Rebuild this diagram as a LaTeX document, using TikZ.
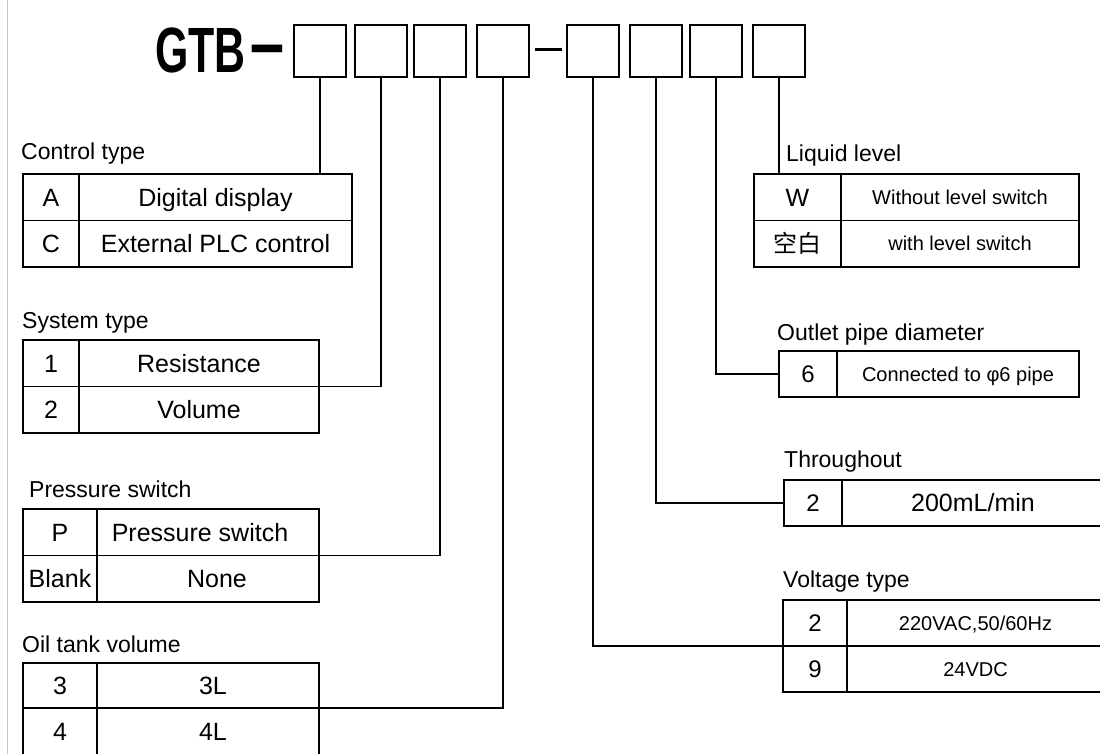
\documentclass[tikz,border=0pt]{standalone}
\usepackage{graphicx}
\usepackage{fontspec}
\setmainfont{Liberation Sans}
\newfontfamily\cjk{Noto Sans CJK SC}
\newfontfamily\gtbfont[FakeStretch=0.67]{Liberation Sans}
\begin{document}
\begin{tikzpicture}[x=1pt,y=-1pt]
\tikzset{
  ln/.style={line width=1.8pt, black},
  bx/.style={draw, line width=1.8pt, minimum width=52pt, minimum height=52pt, inner sep=0pt, outer sep=0pt},
  cell/.style={draw, line width=1.8pt, inner sep=0pt, outer sep=0pt, anchor=north west, text depth=0pt},
  big/.style={font=\fontsize{25}{30}\selectfont, text height=17.9pt},
  med/.style={font=\fontsize{24}{29}\selectfont, text height=17.2pt},
  sm/.style={font=\fontsize{20}{24}\selectfont, text height=14.3pt},
  lbl/.style={font=\fontsize{23}{28}\selectfont, anchor=base west, inner sep=0pt},
}
\clip (0,0) rectangle (1100,754);
\fill[white] (0,0) rectangle (1100,754);
\draw[black!22, line width=1.5pt] (7.5,0) -- (7.5,754);

% title code
\node[anchor=base west, inner sep=0pt, font=\gtbfont\bfseries\fontsize{64}{64}\selectfont] (gtb) at (155,73) {GTB\kern2pt\raisebox{7pt}{\scalebox{2.8}[1]{-}}};
\node[bx] (b1) at (320,51) {};
\node[bx] (b2) at (381,51) {};
\node[bx] (b3) at (440,51) {};
\node[bx] (b4) at (503,51) {};
\node[bx] (b5) at (593,51) {};
\node[bx] (b6) at (656,51) {};
\node[bx] (b7) at (716,51) {};
\node[bx] (b8) at (779,51) {};
\draw[line width=2.6pt] ([xshift=6pt,yshift=1.5pt]b4.east) -- ([xshift=-5pt,yshift=1.5pt]b5.west);

% Control type
\node[lbl] (lct) at (21,160) {Control type};
\node[cell,big,minimum width=56pt,minimum height=46.5pt] (ct1) at (23,174) {A};
\node[cell,big,minimum width=273pt,minimum height=46.5pt] (ct1v) at (ct1.north east) {Digital display};
\node[cell,big,minimum width=56pt,minimum height=46.5pt] (ct2) at (ct1.south west) {C};
\node[cell,big,minimum width=273pt,minimum height=46.5pt] (ct2v) at (ct2.north east) {External PLC control};

% System type
\node[lbl] (lst) at (22,328) {System type};
\node[cell,big,minimum width=56pt,minimum height=46.5pt] (st1) at (23,340) {1};
\node[cell,big,minimum width=240pt,minimum height=46.5pt] (st1v) at (st1.north east) {Resistance};
\node[cell,big,minimum width=56pt,minimum height=46.5pt] (st2) at (st1.south west) {2};
\node[cell,big,minimum width=240pt,minimum height=46.5pt] (st2v) at (st2.north east) {Volume};

% Pressure switch
\node[lbl] (lps) at (29,497) {Pressure switch};
\node[cell,big,minimum width=74pt,minimum height=46.5pt] (ps1) at (23,509) {P};
\node[cell,big,minimum width=222pt,minimum height=46.5pt] (ps1v) at (ps1.north east) {\hspace*{-16pt}Pressure switch};
\node[cell,big,minimum width=74pt,minimum height=46.5pt] (ps2) at (ps1.south west) {Blank};
\node[cell,big,minimum width=222pt,minimum height=46.5pt] (ps2v) at (ps2.north east) {\hspace*{18pt}None};

% Oil tank volume
\node[lbl] (lot) at (22,652) {Oil tank volume};
\node[cell,big,minimum width=74pt,minimum height=45pt] (ot1) at (23,663) {3};
\node[cell,big,minimum width=222pt,minimum height=45pt] (ot1v) at (ot1.north east) {\hspace*{10pt}3L};
\node[cell,big,minimum width=74pt,minimum height=48pt] (ot2) at (ot1.south west) {4};
\node[cell,big,minimum width=222pt,minimum height=48pt] (ot2v) at (ot2.north east) {\hspace*{10pt}4L};

% Liquid level
\node[lbl] (lll) at (786,162) {Liquid level};
\node[cell,big,minimum width=87pt,minimum height=46.5pt] (ll1) at (754,174) {W};
\node[cell,sm,minimum width=238pt,minimum height=46.5pt] (ll1v) at (ll1.north east) {Without level switch};
\node[cell,med,minimum width=87pt,minimum height=46.5pt] (ll2) at (ll1.south west) {\cjk 空白};
\node[cell,sm,minimum width=238pt,minimum height=46.5pt] (ll2v) at (ll2.north east) {with level switch};

% Outlet pipe diameter
\node[lbl] (lop) at (777,340) {Outlet pipe diameter};
\node[cell,med,minimum width=58pt,minimum height=46pt] (op1) at (779,351) {6};
\node[cell,sm,minimum width=242pt,minimum height=46pt] (op1v) at (op1.north east) {Connected to φ6 pipe};

% Throughout
\node[lbl] (ltt) at (784,467) {Throughout};
\node[cell,med,minimum width=58pt,minimum height=46pt] (tt1) at (784,480) {2};
\node[cell,big,minimum width=262pt,minimum height=46pt] (tt1v) at (tt1.north east) {200mL/min};

% Voltage type
\node[lbl] (lvt) at (783,587) {Voltage type};
\node[cell,med,minimum width=64pt,minimum height=46pt] (vt1) at (783,600) {2};
\node[cell,sm,minimum width=257pt,minimum height=46pt] (vt1v) at (vt1.north east) {220VAC,50/60Hz};
\node[cell,med,minimum width=64pt,minimum height=46pt] (vt2) at (vt1.south west) {9};
\node[cell,sm,minimum width=257pt,minimum height=46pt] (vt2v) at (vt2.north east) {24VDC};

% connectors
\draw[ln] (b1.south) -- (b1.south |- ct1v.north);
\draw[ln] (b2.south) |- (st1v.south east);
\draw[ln] (b3.south) |- (ps1v.south east);
\draw[ln] (b4.south) |- (ot1v.south east);
\draw[ln] (b5.south) |- (vt1.south west);
\draw[ln] (b6.south) |- (tt1.west);
\draw[ln] (b7.south) |- (op1.west);
\draw[ln] (b8.south) -- (b8.south |- ll1.north);
\end{tikzpicture}
\end{document}
